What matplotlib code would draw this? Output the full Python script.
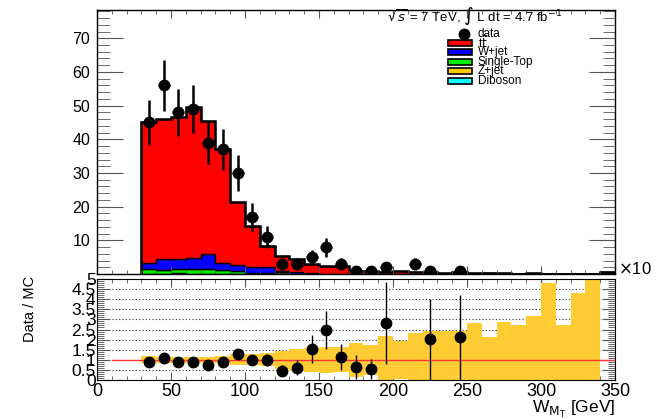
import numpy as np
import matplotlib
matplotlib.use("Agg")
import matplotlib.pyplot as plt
from matplotlib.patches import Rectangle

plt.rcParams['font.family'] = ['Liberation Sans', 'DejaVu Sans']

# 10 GeV bins from 30 to 350
edges = np.arange(30, 351, 10)

ttbar = [42.0, 41.5, 42.1, 45.0, 39.6, 34.0, 18.7, 11.9, 6.2, 4.4, 3.9, 2.9, 2.4, 2.2,
         1.0, 1.0, 0.7, 0.9, 0.6, 0.5, 0.3, 0.5, 0.2, 0.0, 0.2, 0.1, 0.2, 0.1, 0.1, 0.1, 0.1, 0.0]
wjet = [1.6, 3.2, 3.0, 3.1, 4.3, 2.0, 1.7, 1.8, 2.0, 0.2, 0.5, 0.2, 0.1, 0.1,
        0, 0, 0, 0, 0, 0, 0, 0, 0, 0.3, 0, 0, 0, 0, 0, 0, 0, 0.5]
stop = [1.5, 1.2, 1.0, 1.6, 1.6, 1.2, 0.9, 0.4, 0.2, 0.1, 0.1, 0, 0, 0,
        0, 0, 0, 0, 0, 0, 0, 0, 0, 0, 0, 0, 0, 0, 0, 0, 0, 0]
zjet = [0.1, 0, 0.4, 0, 0, 0, 0, 0, 0, 0.6, 0, 0, 0, 0,
        0, 0, 0, 0, 0, 0, 0, 0, 0, 0, 0, 0, 0, 0, 0, 0, 0, 0]
dibos = [0.02, 0.02, 0.02, 0.02, 0.02, 0.02, 0.01, 0.01, 0, 0, 0, 0, 0, 0,
         0, 0, 0, 0, 0, 0, 0, 0, 0, 0, 0, 0, 0, 0, 0, 0, 0, 0]

data_x = [35, 45, 55, 65, 75, 85, 95, 105, 115, 125, 135, 145, 155, 165, 175, 185, 195, 215, 225, 245]
data_y = [45, 56, 48, 49, 39, 37, 30, 17, 11, 3, 3, 5, 8, 3, 1, 1, 2, 3, 1, 1]

ratio_x = [35, 45, 55, 65, 75, 85, 95, 105, 115, 125, 135, 145, 155, 165, 175, 185, 195, 225, 245]
ratio_y = [0.91, 1.07, 0.91, 0.91, 0.74, 0.91, 1.27, 0.99, 1.0, 0.46, 0.61, 1.53, 2.48,
           1.12, 0.63, 0.53, 2.84, 2.01, 2.11]
ratio_err = [0.14, 0.14, 0.14, 0.13, 0.12, 0.15, 0.23, 0.25, 0.3, 0.27, 0.37, 0.7, 0.93,
             0.65, 0.6, 0.5, 2.03, 2.0, 2.1]

# relative MC uncertainty per bin
band = [0.17, 0.15, 0.15, 0.15, 0.16, 0.17, 0.27, 0.27, 0.33, 0.45, 0.54, 0.6, 0.65, 0.62,
        0.85, 0.73, 1.18, 0.95, 1.31, 1.44, 1.44, 1.44, 1.81, 1.14, 1.89, 1.72, 2.17, 3.82,
        1.72, 3.29, 4.5, 0.0]

samples = [("Diboson", dibos, "#00FFFF"), ("Z+jet", zjet, "#FFCC00"),
           ("Single-Top", stop, "#00EE00"), ("W+jet", wjet, "#0000FF"),
           (r"t$\bar{\mathrm{t}}$", ttbar, "#FF0000")]

fig = plt.figure(figsize=(6.56, 4.19), dpi=100)
ax = fig.add_axes([0.1479, 0.3461, 0.7896, 0.630])
rax = fig.add_axes([0.1479, 0.0931, 0.7896, 0.241])

# stacked MC
bottom = np.zeros(len(edges) - 1)
for name, vals, col in samples:
    top = bottom + np.array(vals)
    ax.stairs(top, edges, baseline=bottom, fill=True, color=col, lw=0)
    ax.stairs(top, edges, baseline=bottom, color='black', lw=1.0)
    bottom = top
ax.stairs(bottom, edges, baseline=0, color='black', lw=1.8)

# data
ax.errorbar(data_x, data_y, yerr=np.sqrt(data_y), xerr=4, fmt='o', color='black',
            ms=7.5, elinewidth=1.8, capsize=0, zorder=5)

ax.set_xlim(0, 350)
ax.set_ylim(0, 78.4)
ax.set_xticks(np.arange(0, 351, 50))
ax.set_xticks(np.arange(0, 351, 10), minor=True)
ax.set_yticks(np.arange(10, 71, 10))
ax.set_yticks(np.arange(0, 79, 2), minor=True)
ax.tick_params(axis='both', which='both', direction='in', top=True, right=True,
               color='#555555', labelsize=11.5)
ax.tick_params(axis='y', which='major', length=19, pad=5)
ax.tick_params(axis='y', which='minor', length=9)
ax.tick_params(axis='x', which='major', length=6)
ax.tick_params(axis='x', which='minor', length=3)
ax.tick_params(axis='x', labelbottom=False)
for s in ax.spines.values():
    s.set_linewidth(1.0)

ax.text(0.728, 0.977, r'$\sqrt{s}$ = 7 TeV, $\int$ L dt = 4.7 fb$^{-1}$', transform=ax.transAxes,
        ha='center', va='center', fontsize=9.5)

# legend
ax.plot([0.7085], [0.909], 'o', color='black', ms=7.5, transform=ax.transAxes, clip_on=False)
ax.text(0.7355, 0.909, 'data', transform=ax.transAxes, va='center', fontsize=8.5)
leg_y = [0.731, 0.769, 0.803, 0.841, 0.875]
for (name, vals, col), yy in zip(samples, leg_y):
    ax.add_patch(Rectangle((0.677, yy - 0.012), 0.047, 0.024, transform=ax.transAxes,
                           facecolor=col, edgecolor='black', lw=1.2))
    ax.text(0.7355, yy, name, transform=ax.transAxes, va='center', fontsize=8.5)

fig.text(0.942, 0.357, r'$\times$10', fontsize=12, va='center', ha='left')

# ratio panel
for g in np.arange(0.5, 5.0, 0.5):
    rax.plot([10, 350], [g, g], ls=(0, (1, 2)), color='#333333', lw=0.8, zorder=1)
rax.stairs(1 + np.array(band), edges, baseline=1 - np.array(band), fill=True,
           color='#FFCC33', lw=0, zorder=2)
rax.plot([10, 350], [1, 1], color='#FF3333', lw=1.0, zorder=3)
rax.errorbar(ratio_x, ratio_y, yerr=ratio_err, fmt='o', color='black', ms=7.5,
             elinewidth=1.0, capsize=0, zorder=5)

rax.set_xlim(0, 350)
rax.set_ylim(0, 5)
rax.set_xticks(np.arange(0, 351, 50))
rax.set_xticks(np.arange(0, 351, 10), minor=True)
rax.set_yticks(np.arange(0, 5.01, 0.5))
rax.set_yticklabels(['0', '0.5', '1', '1.5', '2', '2.5', '3', '3.5', '4', '4.5', '5'])
rax.set_yticks(np.arange(0, 5.01, 0.1), minor=True)
rax.tick_params(axis='y', which='both', direction='in', right=True,
                color='#555555', labelsize=12.5)
rax.tick_params(axis='x', which='both', direction='in', top=True,
                color='#555555', labelsize=13)
rax.tick_params(axis='y', which='major', length=9, pad=1)
rax.tick_params(axis='y', which='minor', length=5)
rax.tick_params(axis='x', which='major', length=6, pad=2)
rax.tick_params(axis='x', which='minor', length=3)
rax.set_ylabel('Data / MC', fontsize=10.5)
rax.yaxis.set_label_coords(-0.115, 0.7)
fig.text(615 / 656, 1 - 409 / 419, r'W$_{\mathrm{M_T}}$ [GeV]', fontsize=12.5,
         ha='right', va='center')

plt.savefig('out.png', dpi=100)
